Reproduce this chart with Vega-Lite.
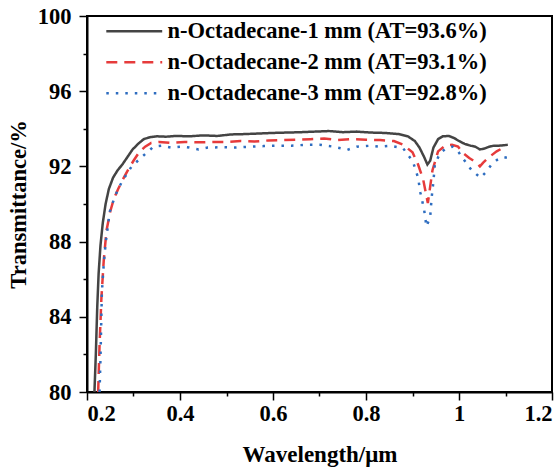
{
  "$schema": "https://vega.github.io/schema/vega-lite/v6.json",
  "width": 465,
  "height": 376,
  "autosize": {"type": "none"},
  "padding": {"left": 87, "top": 16, "right": 8, "bottom": 83},
  "background": "white",
  "config": {"view": {"stroke": "black", "strokeWidth": 2}, "font": "Liberation Serif"},
  "data": {"values": [
    {"s":"n-Octadecane-1 mm (AT=93.6%)","wl":0.216,"T":80.0},{"s":"n-Octadecane-1 mm (AT=93.6%)","wl":0.219,"T":82.0},{"s":"n-Octadecane-1 mm (AT=93.6%)","wl":0.222,"T":84.5},{"s":"n-Octadecane-1 mm (AT=93.6%)","wl":0.225,"T":86.3},{"s":"n-Octadecane-1 mm (AT=93.6%)","wl":0.229,"T":87.8},{"s":"n-Octadecane-1 mm (AT=93.6%)","wl":0.234,"T":89.0},{"s":"n-Octadecane-1 mm (AT=93.6%)","wl":0.240,"T":90.0},{"s":"n-Octadecane-1 mm (AT=93.6%)","wl":0.247,"T":90.8},{"s":"n-Octadecane-1 mm (AT=93.6%)","wl":0.256,"T":91.4},{"s":"n-Octadecane-1 mm (AT=93.6%)","wl":0.266,"T":91.8},{"s":"n-Octadecane-1 mm (AT=93.6%)","wl":0.276,"T":92.1},{"s":"n-Octadecane-1 mm (AT=93.6%)","wl":0.287,"T":92.5},{"s":"n-Octadecane-1 mm (AT=93.6%)","wl":0.298,"T":92.9},{"s":"n-Octadecane-1 mm (AT=93.6%)","wl":0.310,"T":93.2},{"s":"n-Octadecane-1 mm (AT=93.6%)","wl":0.322,"T":93.45},{"s":"n-Octadecane-1 mm (AT=93.6%)","wl":0.335,"T":93.55},{"s":"n-Octadecane-1 mm (AT=93.6%)","wl":0.35,"T":93.6},{"s":"n-Octadecane-1 mm (AT=93.6%)","wl":0.37,"T":93.58},{"s":"n-Octadecane-1 mm (AT=93.6%)","wl":0.39,"T":93.62},{"s":"n-Octadecane-1 mm (AT=93.6%)","wl":0.42,"T":93.6},{"s":"n-Octadecane-1 mm (AT=93.6%)","wl":0.45,"T":93.65},{"s":"n-Octadecane-1 mm (AT=93.6%)","wl":0.48,"T":93.62},{"s":"n-Octadecane-1 mm (AT=93.6%)","wl":0.51,"T":93.7},{"s":"n-Octadecane-1 mm (AT=93.6%)","wl":0.54,"T":93.72},{"s":"n-Octadecane-1 mm (AT=93.6%)","wl":0.57,"T":93.75},{"s":"n-Octadecane-1 mm (AT=93.6%)","wl":0.60,"T":93.78},{"s":"n-Octadecane-1 mm (AT=93.6%)","wl":0.63,"T":93.8},{"s":"n-Octadecane-1 mm (AT=93.6%)","wl":0.66,"T":93.82},{"s":"n-Octadecane-1 mm (AT=93.6%)","wl":0.69,"T":93.85},{"s":"n-Octadecane-1 mm (AT=93.6%)","wl":0.72,"T":93.88},{"s":"n-Octadecane-1 mm (AT=93.6%)","wl":0.75,"T":93.82},{"s":"n-Octadecane-1 mm (AT=93.6%)","wl":0.78,"T":93.85},{"s":"n-Octadecane-1 mm (AT=93.6%)","wl":0.81,"T":93.8},{"s":"n-Octadecane-1 mm (AT=93.6%)","wl":0.84,"T":93.78},{"s":"n-Octadecane-1 mm (AT=93.6%)","wl":0.87,"T":93.72},{"s":"n-Octadecane-1 mm (AT=93.6%)","wl":0.89,"T":93.6},{"s":"n-Octadecane-1 mm (AT=93.6%)","wl":0.905,"T":93.35},{"s":"n-Octadecane-1 mm (AT=93.6%)","wl":0.915,"T":93.0},{"s":"n-Octadecane-1 mm (AT=93.6%)","wl":0.925,"T":92.5},{"s":"n-Octadecane-1 mm (AT=93.6%)","wl":0.932,"T":92.1},{"s":"n-Octadecane-1 mm (AT=93.6%)","wl":0.938,"T":92.3},{"s":"n-Octadecane-1 mm (AT=93.6%)","wl":0.945,"T":93.0},{"s":"n-Octadecane-1 mm (AT=93.6%)","wl":0.955,"T":93.45},{"s":"n-Octadecane-1 mm (AT=93.6%)","wl":0.965,"T":93.6},{"s":"n-Octadecane-1 mm (AT=93.6%)","wl":0.978,"T":93.62},{"s":"n-Octadecane-1 mm (AT=93.6%)","wl":0.99,"T":93.5},{"s":"n-Octadecane-1 mm (AT=93.6%)","wl":1.0,"T":93.35},{"s":"n-Octadecane-1 mm (AT=93.6%)","wl":1.012,"T":93.2},{"s":"n-Octadecane-1 mm (AT=93.6%)","wl":1.025,"T":93.1},{"s":"n-Octadecane-1 mm (AT=93.6%)","wl":1.035,"T":93.05},{"s":"n-Octadecane-1 mm (AT=93.6%)","wl":1.045,"T":92.9},{"s":"n-Octadecane-1 mm (AT=93.6%)","wl":1.055,"T":92.95},{"s":"n-Octadecane-1 mm (AT=93.6%)","wl":1.065,"T":93.05},{"s":"n-Octadecane-1 mm (AT=93.6%)","wl":1.075,"T":93.1},{"s":"n-Octadecane-1 mm (AT=93.6%)","wl":1.085,"T":93.1},{"s":"n-Octadecane-1 mm (AT=93.6%)","wl":1.095,"T":93.12},{"s":"n-Octadecane-1 mm (AT=93.6%)","wl":1.105,"T":93.15},
    {"s":"n-Octadecane-2 mm (AT=93.1%)","wl":0.224,"T":80.0},{"s":"n-Octadecane-2 mm (AT=93.1%)","wl":0.227,"T":82.5},{"s":"n-Octadecane-2 mm (AT=93.1%)","wl":0.231,"T":85.0},{"s":"n-Octadecane-2 mm (AT=93.1%)","wl":0.236,"T":87.0},{"s":"n-Octadecane-2 mm (AT=93.1%)","wl":0.242,"T":88.6},{"s":"n-Octadecane-2 mm (AT=93.1%)","wl":0.250,"T":89.6},{"s":"n-Octadecane-2 mm (AT=93.1%)","wl":0.258,"T":90.3},{"s":"n-Octadecane-2 mm (AT=93.1%)","wl":0.267,"T":90.8},{"s":"n-Octadecane-2 mm (AT=93.1%)","wl":0.277,"T":91.3},{"s":"n-Octadecane-2 mm (AT=93.1%)","wl":0.288,"T":91.8},{"s":"n-Octadecane-2 mm (AT=93.1%)","wl":0.300,"T":92.3},{"s":"n-Octadecane-2 mm (AT=93.1%)","wl":0.312,"T":92.75},{"s":"n-Octadecane-2 mm (AT=93.1%)","wl":0.325,"T":93.05},{"s":"n-Octadecane-2 mm (AT=93.1%)","wl":0.338,"T":93.25},{"s":"n-Octadecane-2 mm (AT=93.1%)","wl":0.355,"T":93.3},{"s":"n-Octadecane-2 mm (AT=93.1%)","wl":0.38,"T":93.25},{"s":"n-Octadecane-2 mm (AT=93.1%)","wl":0.41,"T":93.3},{"s":"n-Octadecane-2 mm (AT=93.1%)","wl":0.44,"T":93.28},{"s":"n-Octadecane-2 mm (AT=93.1%)","wl":0.47,"T":93.3},{"s":"n-Octadecane-2 mm (AT=93.1%)","wl":0.50,"T":93.3},{"s":"n-Octadecane-2 mm (AT=93.1%)","wl":0.53,"T":93.35},{"s":"n-Octadecane-2 mm (AT=93.1%)","wl":0.56,"T":93.32},{"s":"n-Octadecane-2 mm (AT=93.1%)","wl":0.59,"T":93.38},{"s":"n-Octadecane-2 mm (AT=93.1%)","wl":0.62,"T":93.4},{"s":"n-Octadecane-2 mm (AT=93.1%)","wl":0.65,"T":93.42},{"s":"n-Octadecane-2 mm (AT=93.1%)","wl":0.68,"T":93.45},{"s":"n-Octadecane-2 mm (AT=93.1%)","wl":0.71,"T":93.48},{"s":"n-Octadecane-2 mm (AT=93.1%)","wl":0.74,"T":93.4},{"s":"n-Octadecane-2 mm (AT=93.1%)","wl":0.77,"T":93.45},{"s":"n-Octadecane-2 mm (AT=93.1%)","wl":0.80,"T":93.42},{"s":"n-Octadecane-2 mm (AT=93.1%)","wl":0.83,"T":93.4},{"s":"n-Octadecane-2 mm (AT=93.1%)","wl":0.86,"T":93.35},{"s":"n-Octadecane-2 mm (AT=93.1%)","wl":0.88,"T":93.15},{"s":"n-Octadecane-2 mm (AT=93.1%)","wl":0.90,"T":92.75},{"s":"n-Octadecane-2 mm (AT=93.1%)","wl":0.912,"T":92.1},{"s":"n-Octadecane-2 mm (AT=93.1%)","wl":0.923,"T":91.3},{"s":"n-Octadecane-2 mm (AT=93.1%)","wl":0.933,"T":90.05},{"s":"n-Octadecane-2 mm (AT=93.1%)","wl":0.943,"T":91.8},{"s":"n-Octadecane-2 mm (AT=93.1%)","wl":0.955,"T":92.8},{"s":"n-Octadecane-2 mm (AT=93.1%)","wl":0.97,"T":93.1},{"s":"n-Octadecane-2 mm (AT=93.1%)","wl":0.985,"T":93.15},{"s":"n-Octadecane-2 mm (AT=93.1%)","wl":0.998,"T":93.05},{"s":"n-Octadecane-2 mm (AT=93.1%)","wl":1.009,"T":92.7},{"s":"n-Octadecane-2 mm (AT=93.1%)","wl":1.022,"T":92.45},{"s":"n-Octadecane-2 mm (AT=93.1%)","wl":1.038,"T":92.2},{"s":"n-Octadecane-2 mm (AT=93.1%)","wl":1.045,"T":92.0},{"s":"n-Octadecane-2 mm (AT=93.1%)","wl":1.052,"T":92.2},{"s":"n-Octadecane-2 mm (AT=93.1%)","wl":1.065,"T":92.5},{"s":"n-Octadecane-2 mm (AT=93.1%)","wl":1.081,"T":92.8},{"s":"n-Octadecane-2 mm (AT=93.1%)","wl":1.092,"T":92.95},{"s":"n-Octadecane-2 mm (AT=93.1%)","wl":1.103,"T":93.05},
    {"s":"n-Octadecane-3 mm (AT=92.8%)","wl":0.227,"T":80.0},{"s":"n-Octadecane-3 mm (AT=92.8%)","wl":0.229,"T":81.8},{"s":"n-Octadecane-3 mm (AT=92.8%)","wl":0.232,"T":85.3},{"s":"n-Octadecane-3 mm (AT=92.8%)","wl":0.236,"T":86.8},{"s":"n-Octadecane-3 mm (AT=92.8%)","wl":0.240,"T":87.9},{"s":"n-Octadecane-3 mm (AT=92.8%)","wl":0.249,"T":89.6},{"s":"n-Octadecane-3 mm (AT=92.8%)","wl":0.260,"T":90.4},{"s":"n-Octadecane-3 mm (AT=92.8%)","wl":0.269,"T":90.9},{"s":"n-Octadecane-3 mm (AT=92.8%)","wl":0.278,"T":91.3},{"s":"n-Octadecane-3 mm (AT=92.8%)","wl":0.296,"T":92.0},{"s":"n-Octadecane-3 mm (AT=92.8%)","wl":0.318,"T":92.5},{"s":"n-Octadecane-3 mm (AT=92.8%)","wl":0.343,"T":93.05},{"s":"n-Octadecane-3 mm (AT=92.8%)","wl":0.36,"T":93.1},{"s":"n-Octadecane-3 mm (AT=92.8%)","wl":0.38,"T":93.0},{"s":"n-Octadecane-3 mm (AT=92.8%)","wl":0.40,"T":93.05},{"s":"n-Octadecane-3 mm (AT=92.8%)","wl":0.42,"T":93.0},{"s":"n-Octadecane-3 mm (AT=92.8%)","wl":0.44,"T":92.9},{"s":"n-Octadecane-3 mm (AT=92.8%)","wl":0.46,"T":93.0},{"s":"n-Octadecane-3 mm (AT=92.8%)","wl":0.49,"T":93.02},{"s":"n-Octadecane-3 mm (AT=92.8%)","wl":0.52,"T":93.0},{"s":"n-Octadecane-3 mm (AT=92.8%)","wl":0.55,"T":93.05},{"s":"n-Octadecane-3 mm (AT=92.8%)","wl":0.58,"T":93.08},{"s":"n-Octadecane-3 mm (AT=92.8%)","wl":0.61,"T":93.1},{"s":"n-Octadecane-3 mm (AT=92.8%)","wl":0.64,"T":93.1},{"s":"n-Octadecane-3 mm (AT=92.8%)","wl":0.67,"T":93.15},{"s":"n-Octadecane-3 mm (AT=92.8%)","wl":0.70,"T":93.15},{"s":"n-Octadecane-3 mm (AT=92.8%)","wl":0.73,"T":93.05},{"s":"n-Octadecane-3 mm (AT=92.8%)","wl":0.76,"T":92.88},{"s":"n-Octadecane-3 mm (AT=92.8%)","wl":0.78,"T":93.05},{"s":"n-Octadecane-3 mm (AT=92.8%)","wl":0.81,"T":93.1},{"s":"n-Octadecane-3 mm (AT=92.8%)","wl":0.83,"T":93.05},{"s":"n-Octadecane-3 mm (AT=92.8%)","wl":0.852,"T":93.1},{"s":"n-Octadecane-3 mm (AT=92.8%)","wl":0.88,"T":92.96},{"s":"n-Octadecane-3 mm (AT=92.8%)","wl":0.901,"T":92.25},{"s":"n-Octadecane-3 mm (AT=92.8%)","wl":0.912,"T":91.4},{"s":"n-Octadecane-3 mm (AT=92.8%)","wl":0.917,"T":90.6},{"s":"n-Octadecane-3 mm (AT=92.8%)","wl":0.925,"T":89.7},{"s":"n-Octadecane-3 mm (AT=92.8%)","wl":0.930,"T":88.8},{"s":"n-Octadecane-3 mm (AT=92.8%)","wl":0.938,"T":89.3},{"s":"n-Octadecane-3 mm (AT=92.8%)","wl":0.941,"T":90.3},{"s":"n-Octadecane-3 mm (AT=92.8%)","wl":0.945,"T":91.2},{"s":"n-Octadecane-3 mm (AT=92.8%)","wl":0.948,"T":92.1},{"s":"n-Octadecane-3 mm (AT=92.8%)","wl":0.959,"T":92.7},{"s":"n-Octadecane-3 mm (AT=92.8%)","wl":0.972,"T":92.95},{"s":"n-Octadecane-3 mm (AT=92.8%)","wl":0.986,"T":93.05},{"s":"n-Octadecane-3 mm (AT=92.8%)","wl":0.998,"T":92.8},{"s":"n-Octadecane-3 mm (AT=92.8%)","wl":1.009,"T":92.4},{"s":"n-Octadecane-3 mm (AT=92.8%)","wl":1.027,"T":91.8},{"s":"n-Octadecane-3 mm (AT=92.8%)","wl":1.046,"T":91.4},{"s":"n-Octadecane-3 mm (AT=92.8%)","wl":1.058,"T":91.7},{"s":"n-Octadecane-3 mm (AT=92.8%)","wl":1.070,"T":92.1},{"s":"n-Octadecane-3 mm (AT=92.8%)","wl":1.082,"T":92.35},{"s":"n-Octadecane-3 mm (AT=92.8%)","wl":1.094,"T":92.5},{"s":"n-Octadecane-3 mm (AT=92.8%)","wl":1.105,"T":92.45}
  ]},
  "mark": {"type": "line", "strokeWidth": 2.5},
  "encoding": {
    "x": {
      "field": "wl", "type": "quantitative",
      "scale": {"domain": [0.2, 1.2], "nice": false, "zero": false},
      "axis": {
        "title": "Wavelength/μm",
        "values": [0.2, 0.3, 0.4, 0.5, 0.6, 0.7, 0.8, 0.9, 1.0, 1.1, 1.2],
        "labelExpr": "round(datum.value*10)%2==0 ? format(datum.value,'~g') : ''",
        "tickSize": {"condition": {"test": "round(datum.value*10)%2==0", "value": 8}, "value": 4},
        "grid": false, "domainColor": "black", "domainWidth": 2, "tickColor": "black", "tickWidth": 1.5,
        "labelFont": "Liberation Serif", "labelFontWeight": "bold", "labelFontSize": 22.5, "labelColor": "black", "labelPadding": 2, "labelOverlap": false,
        "titleFont": "Liberation Serif", "titleFontWeight": "bold", "titleFontSize": 23, "titleColor": "black", "titlePadding": 19
      }
    },
    "y": {
      "field": "T", "type": "quantitative",
      "scale": {"domain": [80, 100], "nice": false, "zero": false},
      "axis": {
        "title": "Transmittance/%",
        "values": [80, 82, 84, 86, 88, 90, 92, 94, 96, 98, 100],
        "labelExpr": "datum.value % 4 == 0 ? datum.label : ''",
        "tickSize": {"condition": {"test": "datum.value % 4 == 0", "value": 8}, "value": 4},
        "grid": false, "domainColor": "black", "domainWidth": 2, "tickColor": "black", "tickWidth": 1.5,
        "labelFont": "Liberation Serif", "labelFontWeight": "bold", "labelFontSize": 22.5, "labelColor": "black", "labelPadding": 8, "labelOverlap": false,
        "titleFont": "Liberation Serif", "titleFontWeight": "bold", "titleFontSize": 22.5, "titleColor": "black", "titlePadding": 7
      }
    },
    "color": {
      "field": "s", "type": "nominal",
      "scale": {"domain": ["n-Octadecane-1 mm (AT=93.6%)", "n-Octadecane-2 mm (AT=93.1%)", "n-Octadecane-3 mm (AT=92.8%)"], "range": ["#444444", "#e63b3b", "#2e6dc0"]},
      "legend": {"title": null, "orient": "none", "legendX": 36, "legendY": 4, "symbolType": "M-5,0H5", "symbolSize": 125, "symbolStrokeWidth": 2.5, "labelFont": "Liberation Serif", "labelFontWeight": "bold", "labelFontSize": 22.5, "labelColor": "black", "labelOffset": 22, "labelLimit": 0, "rowPadding": 8}
    },
    "strokeDash": {
      "field": "s", "type": "nominal",
      "scale": {"domain": ["n-Octadecane-1 mm (AT=93.6%)", "n-Octadecane-2 mm (AT=93.1%)", "n-Octadecane-3 mm (AT=92.8%)"], "range": [[1, 0], [11, 7], [2.5, 7]]},
      "legend": {"title": null, "orient": "none", "legendX": 36, "legendY": 4, "symbolType": "M-5,0H5", "symbolSize": 125, "symbolStrokeWidth": 2.5, "labelFont": "Liberation Serif", "labelFontWeight": "bold", "labelFontSize": 22.5, "labelColor": "black", "labelOffset": 22, "labelLimit": 0, "rowPadding": 8}
    }
  }
}
